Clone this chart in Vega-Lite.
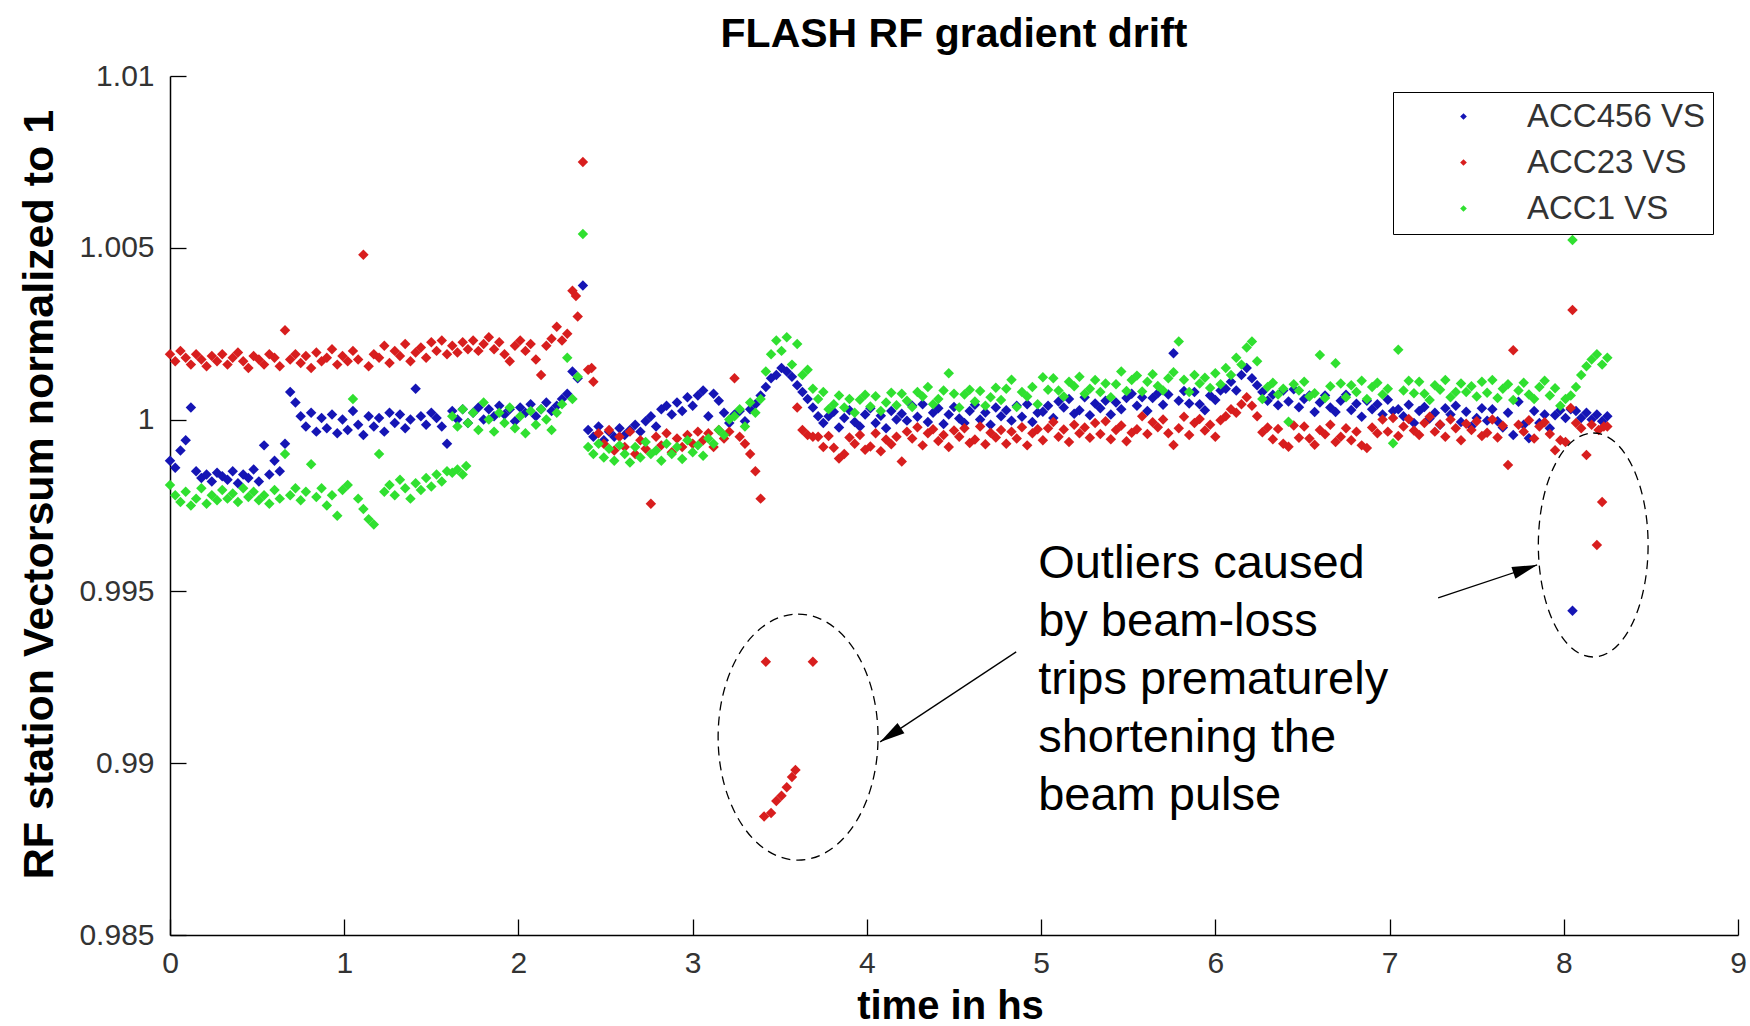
{
"$schema": "https://vega.github.io/schema/vega-lite/v6.json",
"width": 1568, "height": 859,
"autosize": {"type": "none"},
"padding": {"left": 170, "top": 76, "right": 12, "bottom": 91},
"background": "white",
"config": {"view": {"stroke": null}, "font": "Liberation Sans"},
"title": {"text": "FLASH RF gradient drift", "fontSize": 41, "fontWeight": "bold", "font": "Liberation Sans", "color": "black", "anchor": "middle", "frame": "group", "baseline": "alphabetic", "offset": -27},
"datasets": {
"drift": [
{"t":0,"a":0.9988,"b":1.0019,"c":0.9981},
{"t":0.03,"a":0.9986,"b":1.0017,"c":0.9978},
{"t":0.06,"a":0.9991,"b":1.002,"c":0.9976},
{"t":0.09,"a":0.9994,"b":1.0018,"c":0.9979},
{"t":0.12,"a":1.00035,"b":1.0016,"c":0.9975},
{"t":0.15,"a":0.9985,"b":1.0019,"c":0.9977},
{"t":0.18,"a":0.9983,"b":1.00175,"c":0.998},
{"t":0.21,"a":0.9984,"b":1.00155,"c":0.99755},
{"t":0.24,"a":0.9982,"b":1.00185,"c":0.9978},
{"t":0.27,"a":0.99845,"b":1.0017,"c":0.99765},
{"t":0.3,"a":0.99835,"b":1.0019,"c":0.99795},
{"t":0.33,"a":0.99825,"b":1.0016,"c":0.9977},
{"t":0.36,"a":0.9985,"b":1.0018,"c":0.99785},
{"t":0.39,"a":0.99815,"b":1.00195,"c":0.9976},
{"t":0.42,"a":0.9984,"b":1.0017,"c":0.998},
{"t":0.45,"a":0.9983,"b":1.0015,"c":0.99775},
{"t":0.48,"a":0.99855,"b":1.00185,"c":0.9979},
{"t":0.51,"a":0.9982,"b":1.00175,"c":0.99765},
{"t":0.54,"a":0.99925,"b":1.0016,"c":0.9978},
{"t":0.57,"a":0.9984,"b":1.0019,"c":0.99755},
{"t":0.6,"a":0.9988,"b":1.0018,"c":0.99795},
{"t":0.63,"a":0.9985,"b":1.00155,"c":0.9977},
{"t":0.66,"a":0.9993,"b":1.0026,"c":0.999},
{"t":0.69,"a":1.0008,"b":1.00175,"c":0.9978},
{"t":0.72,"a":1.0005,"b":1.0019,"c":0.998},
{"t":0.75,"a":1.0001,"b":1.00165,"c":0.99765},
{"t":0.78,"a":0.9998,"b":1.00185,"c":0.9979},
{"t":0.81,"a":1.0002,"b":1.0015,"c":0.9987},
{"t":0.84,"a":0.99965,"b":1.00195,"c":0.99775},
{"t":0.87,"a":1.00005,"b":1.0017,"c":0.998},
{"t":0.9,"a":0.99975,"b":1.0018,"c":0.9975},
{"t":0.93,"a":1.00015,"b":1.00205,"c":0.9978},
{"t":0.96,"a":0.9996,"b":1.0016,"c":0.9972},
{"t":0.99,"a":1.0,"b":1.00185,"c":0.99795},
{"t":1.02,"a":0.9997,"b":1.0017,"c":0.9981},
{"t":1.05,"a":1.00025,"b":1.002,"c":1.0006},
{"t":1.08,"a":0.99985,"b":1.00175,"c":0.9977},
{"t":1.11,"a":0.99955,"b":1.0048,"c":0.9974},
{"t":1.14,"a":1.0001,"b":1.00155,"c":0.9971},
{"t":1.17,"a":0.9998,"b":1.0019,"c":0.99695},
{"t":1.2,"a":1.00005,"b":1.0018,"c":0.999},
{"t":1.23,"a":0.99965,"b":1.00215,"c":0.9979},
{"t":1.26,"a":1.0002,"b":1.00165,"c":0.9981},
{"t":1.29,"a":0.9999,"b":1.002,"c":0.9978},
{"t":1.32,"a":1.00015,"b":1.00185,"c":0.99825},
{"t":1.35,"a":0.99975,"b":1.0022,"c":0.998},
{"t":1.38,"a":1.0,"b":1.0017,"c":0.9977},
{"t":1.41,"a":1.0009,"b":1.00195,"c":0.99815},
{"t":1.44,"a":1.0001,"b":1.0021,"c":0.99795},
{"t":1.47,"a":0.99985,"b":1.0018,"c":0.9983},
{"t":1.5,"a":1.0002,"b":1.00225,"c":0.99805},
{"t":1.53,"a":1.00005,"b":1.002,"c":0.9984},
{"t":1.56,"a":0.9998,"b":1.0023,"c":0.9982},
{"t":1.59,"a":0.9993,"b":1.0019,"c":0.9985},
{"t":1.62,"a":1.00025,"b":1.00215,"c":1.0001},
{"t":1.65,"a":1.0,"b":1.00195,"c":0.9998},
{"t":1.68,"a":1.0003,"b":1.00225,"c":1.0003},
{"t":1.71,"a":0.9999,"b":1.00205,"c":0.9999},
{"t":1.74,"a":1.0002,"b":1.0023,"c":1.0002},
{"t":1.77,"a":1.00035,"b":1.002,"c":0.9997},
{"t":1.8,"a":1.0,"b":1.0022,"c":1.0005},
{"t":1.83,"a":1.0003,"b":1.0024,"c":1.0},
{"t":1.86,"a":1.0001,"b":1.00205,"c":0.99965},
{"t":1.89,"a":1.0004,"b":1.00225,"c":1.0002},
{"t":1.92,"a":1.00015,"b":1.0019,"c":0.9999},
{"t":1.95,"a":1.0003,"b":1.0017,"c":1.00035},
{"t":1.98,"a":0.99995,"b":1.00215,"c":0.99975},
{"t":2.01,"a":1.00035,"b":1.0023,"c":1.0001},
{"t":2.04,"a":1.0002,"b":1.002,"c":0.9996},
{"t":2.07,"a":1.00045,"b":1.0022,"c":1.00025},
{"t":2.1,"a":1.0001,"b":1.00175,"c":0.99985},
{"t":2.13,"a":1.0003,"b":1.0013,"c":1.0003},
{"t":2.16,"a":1.0005,"b":1.00215,"c":1.0},
{"t":2.19,"a":1.00025,"b":1.00235,"c":0.9997},
{"t":2.22,"a":1.0004,"b":1.0027,"c":1.0002},
{"t":2.25,"a":1.0006,"b":1.0023,"c":1.00045},
{"t":2.28,"a":1.00075,"b":1.0025,"c":1.0018},
{"t":2.31,"a":1.0014,"b":1.00375,"c":1.0006},
{"t":2.34,"a":1.0012,"b":1.003,"c":1.00125},
{"t":2.37,"a":1.0039,"b":1.0075,"c":1.0054},
{"t":2.4,"a":0.9997,"b":1.00145,"c":0.9992},
{"t":2.43,"a":0.9995,"b":1.0011,"c":0.999},
{"t":2.46,"a":0.9998,"b":0.9996,"c":0.9993},
{"t":2.49,"a":0.9994,"b":0.9993,"c":0.9989},
{"t":2.52,"a":0.99965,"b":0.9997,"c":0.99915},
{"t":2.55,"a":0.9995,"b":0.9991,"c":0.9988},
{"t":2.58,"a":0.99975,"b":0.9995,"c":0.99925},
{"t":2.61,"a":0.99955,"b":0.9992,"c":0.999},
{"t":2.64,"a":0.9997,"b":0.99965,"c":0.99875},
{"t":2.67,"a":0.99985,"b":0.999,"c":0.9992},
{"t":2.7,"a":0.99965,"b":0.9994,"c":0.9989},
{"t":2.73,"a":0.99995,"b":0.99915,"c":0.99935},
{"t":2.76,"a":1.0001,"b":0.99755,"c":0.999},
{"t":2.79,"a":0.9998,"b":0.9995,"c":0.9991},
{"t":2.82,"a":1.0003,"b":0.99925,"c":0.9988},
{"t":2.85,"a":1.0004,"b":0.9996,"c":0.9993},
{"t":2.88,"a":1.00015,"b":0.99905,"c":0.999},
{"t":2.91,"a":1.0005,"b":0.99945,"c":0.9992},
{"t":2.94,"a":1.00025,"b":0.9992,"c":0.99885},
{"t":2.97,"a":1.00065,"b":0.99955,"c":0.9994},
{"t":3.0,"a":1.0004,"b":0.9993,"c":0.99905},
{"t":3.03,"a":1.0007,"b":0.99965,"c":0.99925},
{"t":3.06,"a":1.00085,"b":0.9994,"c":0.99895},
{"t":3.09,"a":1.0001,"b":0.9996,"c":0.99945},
{"t":3.12,"a":1.00075,"b":0.9992,"c":0.9993},
{"t":3.15,"a":1.00055,"b":0.9997,"c":0.9997},
{"t":3.18,"a":1.0002,"b":0.99945,"c":0.99955},
{"t":3.21,"a":0.9999,"b":0.99965,"c":1.0},
{"t":3.24,"a":1.00015,"b":1.0012,"c":1.0001},
{"t":3.27,"a":1.00025,"b":0.9995,"c":1.0003},
{"t":3.3,"a":0.99995,"b":0.9993,"c":0.9998},
{"t":3.33,"a":1.0003,"b":0.999,"c":1.0005},
{"t":3.36,"a":1.00045,"b":0.9985,"c":1.0002},
{"t":3.39,"a":1.0007,"b":0.9977,"c":1.0006},
{"t":3.42,"a":1.00095,"b":0.99295,"c":1.0014},
{"t":3.45,"a":1.0012,"b":0.98855,"c":1.0019},
{"t":3.48,"a":1.0013,"b":0.9889,"c":1.0023},
{"t":3.51,"a":1.0015,"b":0.98905,"c":1.002},
{"t":3.54,"a":1.0014,"b":0.9893,"c":1.0024},
{"t":3.57,"a":1.00125,"b":0.9896,"c":1.0016},
{"t":3.6,"a":1.001,"b":1.00035,"c":1.0022},
{"t":3.63,"a":1.0008,"b":0.9997,"c":1.0013},
{"t":3.66,"a":1.0006,"b":0.99955,"c":1.00145},
{"t":3.69,"a":1.00035,"b":0.99295,"c":1.0009},
{"t":3.72,"a":1.0001,"b":0.9995,"c":1.0006},
{"t":3.75,"a":0.9999,"b":0.9992,"c":1.0008},
{"t":3.78,"a":1.0001,"b":0.99952,"c":1.0003},
{"t":3.81,"a":1.00023,"b":0.99918,"c":1.00045},
{"t":3.84,"a":0.99977,"b":0.99887,"c":1.0007},
{"t":3.87,"a":1.00005,"b":0.999,"c":1.00035},
{"t":3.9,"a":1.00027,"b":0.99948,"c":1.0006},
{"t":3.93,"a":0.99993,"b":0.9993,"c":1.0002},
{"t":3.96,"a":0.9998,"b":0.99955,"c":1.00058},
{"t":3.99,"a":1.00015,"b":0.99912,"c":1.00072},
{"t":4.02,"a":1.00033,"b":0.99922,"c":1.00038},
{"t":4.05,"a":0.9999,"b":0.9996,"c":1.00068},
{"t":4.08,"a":1.00011,"b":0.99908,"c":1.00025},
{"t":4.11,"a":0.99975,"b":0.99942,"c":1.0005},
{"t":4.14,"a":1.00025,"b":0.99928,"c":1.00078},
{"t":4.17,"a":1.0,"b":0.9995,"c":1.00042},
{"t":4.2,"a":1.00017,"b":0.99878,"c":1.00075},
{"t":4.23,"a":0.99997,"b":0.99965,"c":1.00055},
{"t":4.26,"a":1.0004,"b":0.99945,"c":1.00037},
{"t":4.29,"a":1.00008,"b":0.99978,"c":1.0008},
{"t":4.32,"a":1.00045,"b":0.99925,"c":1.00067},
{"t":4.35,"a":0.99993,"b":0.9996,"c":1.00095},
{"t":4.38,"a":1.0002,"b":0.99972,"c":1.00045},
{"t":4.41,"a":1.00033,"b":0.99938,"c":1.0006},
{"t":4.44,"a":0.99987,"b":0.99955,"c":1.00085},
{"t":4.47,"a":1.00015,"b":0.9992,"c":1.00135},
{"t":4.5,"a":1.00037,"b":0.99968,"c":1.00075},
{"t":4.53,"a":1.00003,"b":0.9995,"c":1.00035},
{"t":4.56,"a":0.9999,"b":0.99975,"c":1.00073},
{"t":4.59,"a":1.00025,"b":0.99932,"c":1.00087},
{"t":4.62,"a":1.00043,"b":0.99942,"c":1.00053},
{"t":4.65,"a":1.0,"b":0.9998,"c":1.00083},
{"t":4.68,"a":1.00021,"b":0.99928,"c":1.0004},
{"t":4.71,"a":0.99985,"b":0.99962,"c":1.00065},
{"t":4.74,"a":1.00035,"b":0.99948,"c":1.00093},
{"t":4.77,"a":1.0001,"b":0.9997,"c":1.00057},
{"t":4.8,"a":1.00027,"b":0.9993,"c":1.0009},
{"t":4.83,"a":0.99997,"b":0.99965,"c":1.00116},
{"t":4.86,"a":1.0004,"b":0.99945,"c":1.00037},
{"t":4.89,"a":1.00008,"b":0.99978,"c":1.0008},
{"t":4.92,"a":1.00045,"b":0.99925,"c":1.00067},
{"t":4.95,"a":0.99993,"b":0.9996,"c":1.00095},
{"t":4.98,"a":1.0002,"b":0.99972,"c":1.00045},
{"t":5.01,"a":1.00023,"b":0.9994,"c":1.00123},
{"t":5.04,"a":1.0004,"b":0.99975,"c":1.00087},
{"t":5.07,"a":1.00005,"b":0.99993,"c":1.0012},
{"t":5.1,"a":1.00053,"b":0.9995,"c":1.00085},
{"t":5.13,"a":1.00035,"b":0.99971,"c":1.00067},
{"t":5.16,"a":1.0006,"b":0.99935,"c":1.0011},
{"t":5.19,"a":1.00017,"b":0.99985,"c":1.00097},
{"t":5.22,"a":1.00027,"b":0.9996,"c":1.00125},
{"t":5.25,"a":1.00065,"b":0.99977,"c":1.00075},
{"t":5.28,"a":1.00013,"b":0.99947,"c":1.0009},
{"t":5.31,"a":1.00047,"b":0.9999,"c":1.00115},
{"t":5.34,"a":1.00033,"b":0.99958,"c":1.0008},
{"t":5.37,"a":1.00055,"b":0.99995,"c":1.00105},
{"t":5.4,"a":1.00015,"b":0.99943,"c":1.00065},
{"t":5.43,"a":1.0005,"b":0.9997,"c":1.00103},
{"t":5.46,"a":1.0003,"b":0.99983,"c":1.0014},
{"t":5.49,"a":1.00063,"b":0.99937,"c":1.00083},
{"t":5.52,"a":1.00075,"b":0.99962,"c":1.00115},
{"t":5.55,"a":1.0004,"b":0.99972,"c":1.00128},
{"t":5.58,"a":1.00065,"b":1.0001,"c":1.00082},
{"t":5.61,"a":1.00025,"b":0.99958,"c":1.0011},
{"t":5.64,"a":1.00063,"b":0.99992,"c":1.00132},
{"t":5.67,"a":1.00077,"b":0.99978,"c":1.00098},
{"t":5.7,"a":1.00043,"b":1.0,"c":1.00085},
{"t":5.73,"a":1.00073,"b":0.9996,"c":1.0012},
{"t":5.76,"a":1.00193,"b":0.99926,"c":1.00138},
{"t":5.79,"a":1.00055,"b":0.99975,"c":1.00227},
{"t":5.82,"a":1.00083,"b":1.00008,"c":1.00116},
{"t":5.85,"a":1.00047,"b":0.99955,"c":1.0008},
{"t":5.88,"a":1.0008,"b":0.9999,"c":1.0013},
{"t":5.91,"a":1.00045,"b":1.00002,"c":1.00105},
{"t":5.94,"a":1.00027,"b":0.99968,"c":1.00122},
{"t":5.97,"a":1.0007,"b":0.99985,"c":1.00092},
{"t":6.0,"a":1.00057,"b":0.9995,"c":1.00135},
{"t":6.03,"a":1.00085,"b":0.99998,"c":1.00103},
{"t":6.06,"a":1.0009,"b":1.0001,"c":1.0015},
{"t":6.09,"a":1.0011,"b":1.0003,"c":1.0013},
{"t":6.12,"a":1.00085,"b":1.0002,"c":1.0018},
{"t":6.15,"a":1.0013,"b":1.00045,"c":1.0016},
{"t":6.18,"a":1.0015,"b":1.00065,"c":1.0021},
{"t":6.21,"a":1.0012,"b":1.0004,"c":1.00227},
{"t":6.24,"a":1.001,"b":1.0001,"c":1.0017},
{"t":6.27,"a":1.0008,"b":0.99963,"c":1.0006},
{"t":6.3,"a":1.00055,"b":0.99977,"c":1.00095},
{"t":6.33,"a":1.00072,"b":0.99943,"c":1.00107},
{"t":6.36,"a":1.00042,"b":0.99973,"c":1.00073},
{"t":6.39,"a":1.00085,"b":0.9993,"c":1.0009},
{"t":6.42,"a":1.00053,"b":0.99921,"c":0.99994},
{"t":6.45,"a":1.00088,"b":0.99983,"c":1.00103},
{"t":6.48,"a":1.00036,"b":0.99947,"c":1.00085},
{"t":6.51,"a":1.0006,"b":0.9998,"c":1.0011},
{"t":6.54,"a":1.0007,"b":0.99945,"c":1.00067},
{"t":6.57,"a":1.00022,"b":0.99927,"c":1.00077},
{"t":6.6,"a":1.0005,"b":0.9997,"c":1.00188},
{"t":6.63,"a":1.0007,"b":0.99957,"c":1.00063},
{"t":6.66,"a":1.00035,"b":0.99985,"c":1.00097},
{"t":6.69,"a":1.00022,"b":0.99935,"c":1.00164},
{"t":6.72,"a":1.00055,"b":0.9995,"c":1.00105},
{"t":6.75,"a":1.00072,"b":0.99975,"c":1.00065},
{"t":6.78,"a":1.00028,"b":0.9994,"c":1.001},
{"t":6.81,"a":1.00046,"b":0.99965,"c":1.0008},
{"t":6.84,"a":1.00008,"b":0.99925,"c":1.00113},
{"t":6.87,"a":1.00055,"b":0.99917,"c":1.0006},
{"t":6.9,"a":1.0003,"b":0.99977,"c":1.00095},
{"t":6.93,"a":1.00045,"b":0.9996,"c":1.00107},
{"t":6.96,"a":1.00015,"b":1.0,"c":1.00073},
{"t":6.99,"a":1.00058,"b":0.99965,"c":1.0009},
{"t":7.02,"a":1.00025,"b":1.00005,"c":0.99931},
{"t":7.05,"a":1.0003,"b":0.99952,"c":1.00203},
{"t":7.08,"a":1.0001,"b":0.9998,"c":1.00085},
{"t":7.11,"a":1.00043,"b":1.00002,"c":1.00113},
{"t":7.14,"a":0.9999,"b":0.99968,"c":1.00077},
{"t":7.17,"a":1.00025,"b":0.99955,"c":1.0011},
{"t":7.2,"a":1.00037,"b":0.9999,"c":1.00075},
{"t":7.23,"a":1.00003,"b":1.00008,"c":1.00057},
{"t":7.26,"a":1.0002,"b":0.99965,"c":1.001},
{"t":7.29,"a":0.99985,"b":0.99986,"c":1.00087},
{"t":7.32,"a":1.00033,"b":0.9995,"c":1.00115},
{"t":7.35,"a":1.00015,"b":1.0,"c":1.00065},
{"t":7.38,"a":1.0004,"b":0.99975,"c":1.0008},
{"t":7.41,"a":0.99993,"b":0.9994,"c":1.00105},
{"t":7.44,"a":1.00023,"b":0.99988,"c":1.0008},
{"t":7.47,"a":0.9998,"b":0.9997,"c":1.00097},
{"t":7.5,"a":1.00005,"b":0.99995,"c":1.00067},
{"t":7.53,"a":1.00033,"b":0.99952,"c":1.0011},
{"t":7.56,"a":0.99997,"b":0.99962,"c":1.00078},
{"t":7.59,"a":1.0003,"b":1.0,"c":1.00115},
{"t":7.62,"a":0.99995,"b":0.99948,"c":1.00063},
{"t":7.65,"a":0.99977,"b":0.99982,"c":1.0009},
{"t":7.68,"a":1.0002,"b":0.99868,"c":1.00103},
{"t":7.71,"a":0.99955,"b":1.00202,"c":1.00057},
{"t":7.74,"a":1.00052,"b":0.99985,"c":1.00085},
{"t":7.77,"a":0.99985,"b":0.99965,"c":1.00107},
{"t":7.8,"a":0.99946,"b":0.99998,"c":1.00073},
{"t":7.83,"a":1.00025,"b":0.99945,"c":1.0006},
{"t":7.86,"a":0.9999,"b":0.9998,"c":1.00095},
{"t":7.89,"a":1.00015,"b":0.99992,"c":1.00113},
{"t":7.92,"a":0.99975,"b":0.99958,"c":1.0007},
{"t":7.95,"a":1.00013,"b":0.99911,"c":1.00091},
{"t":7.98,"a":1.00027,"b":0.9994,"c":1.0004},
{"t":8.01,"a":1.00005,"b":0.99935,"c":1.0006},
{"t":8.04,"a":1.0003,"b":1.00034,"c":1.0007},
{"t":8.05,"a":0.99444,"b":1.00319,"c":1.00523},
{"t":8.07,"a":1.00025,"b":0.9999,"c":1.00095},
{"t":8.1,"a":1.00005,"b":0.99975,"c":1.0013},
{"t":8.13,"a":1.0002,"b":0.99897,"c":1.00155},
{"t":8.16,"a":1.0,"b":0.99985,"c":1.00175},
{"t":8.19,"a":1.00015,"b":0.99635,"c":1.0019},
{"t":8.22,"a":0.99995,"b":0.9976,"c":1.0016},
{"t":8.25,"a":1.0001,"b":0.9998,"c":1.0018},
{"t":8.2,"b":0.9997},
{"t":8.23,"b":0.9998},
{"t":1.62,"c":0.99845},
{"t":1.65,"c":0.99855},
{"t":1.68,"c":0.9984},
{"t":1.7,"c":0.99865},
{"t":2.33,"b":1.0036},
{"t":2.42,"b":1.0015},
{"t":3.41,"b":0.98845},
{"t":3.59,"b":0.9898},
{"t":3.69,"b":0.9995}
]
},
"layer": [
{
"data": {"name": "drift"},
"transform": [{"fold": ["a", "b", "c"], "as": ["s", "v"]}],
"mark": {"type": "point", "shape": "diamond", "filled": true, "size": 110, "opacity": 1, "strokeWidth": 0},
"encoding": {
"x": {"field": "t", "type": "quantitative",
"scale": {"domain": [0, 9], "nice": false, "zero": false},
"axis": {"values": [0,1,2,3,4,5,6,7,8,9], "format": "d", "title": "time in hs",
"titleFontSize": 40, "titleFontWeight": "bold", "titleFont": "Liberation Sans", "titleColor": "black",
"titleX": 780, "titleY": 83, "titleBaseline": "alphabetic", "titleAlign": "center",
"labelFontSize": 30, "labelColor": "#333", "labelFont": "Liberation Sans", "labelPadding": 29, "labelFlush": false, "labelOverlap": false,
"tickSize": -16, "tickColor": "black", "tickWidth": 1.3, "domainColor": "black", "domainWidth": 1.5, "grid": false}},
"y": {"field": "v", "type": "quantitative",
"scale": {"domain": [0.985, 1.01], "nice": false, "zero": false},
"axis": {"values": [0.985, 0.99, 0.995, 1, 1.005, 1.01], "format": "~g", "title": "RF station Vectorsum normalized to 1",
"titleFontSize": 43, "titleFontWeight": "bold", "titleFont": "Liberation Sans", "titleColor": "black",
"titleX": -118, "titleY": 418, "titleBaseline": "alphabetic", "titleAlign": "center", "titleAngle": 270,
"labelFontSize": 30, "labelColor": "#333", "labelFont": "Liberation Sans", "labelPadding": 32, "labelFlush": false, "labelOverlap": false,
"tickSize": -16, "tickColor": "black", "tickWidth": 1.3, "domainColor": "black", "domainWidth": 1.5, "grid": false}},
"color": {"field": "s", "type": "nominal",
"scale": {"domain": ["a", "b", "c"], "range": ["#1515b5", "#d81e1e", "#30e030"]},
"legend": {"orient": "none", "legendX": 1223, "legendY": 16, "title": null,
"labelExpr": "datum.value == 'a' ? 'ACC456 VS' : datum.value == 'b' ? 'ACC23 VS' : 'ACC1 VS'",
"labelFontSize": 33, "labelFont": "Liberation Sans", "labelColor": "#333", "labelLimit": 400,
"symbolType": "diamond", "symbolSize": 45, "symbolOpacity": 1, "symbolStrokeWidth": 0,
"strokeColor": "black", "fillColor": "white", "padding": 8, "rowPadding": 12, "symbolOffset": 46, "labelOffset": 47}},
"order": {"field": "s"}
}
},
{
"data": {"values": [{"t": 3.605, "v": 0.99076}]},
"mark": {"type": "point", "shape": "M 0 -1 A 0.65 1 0 1 1 0 1 A 0.65 1 0 1 1 0 -1 Z", "size": 60516, "filled": false, "stroke": "black", "strokeWidth": 1.3, "strokeDash": [9, 6], "opacity": 1},
"encoding": {"x": {"field": "t", "type": "quantitative"}, "y": {"field": "v", "type": "quantitative"}}
},
{
"data": {"values": [{"t": 8.169, "v": 0.99635}]},
"mark": {"type": "point", "shape": "M 0 -1 A 0.49 1 0 1 1 0 1 A 0.49 1 0 1 1 0 -1 Z", "size": 50176, "filled": false, "stroke": "black", "strokeWidth": 1.3, "strokeDash": [9, 6], "opacity": 1},
"encoding": {"x": {"field": "t", "type": "quantitative"}, "y": {"field": "v", "type": "quantitative"}}
},
{
"data": {"values": [{"t": 4.857, "v": 0.99324, "t2": 4.076, "v2": 0.99062}, {"t": 7.279, "v": 0.99481, "t2": 7.847, "v2": 0.99577}]},
"mark": {"type": "rule", "color": "black", "strokeWidth": 1.3},
"encoding": {"x": {"field": "t", "type": "quantitative"}, "y": {"field": "v", "type": "quantitative"}, "x2": {"field": "t2"}, "y2": {"field": "v2"}}
},
{
"data": {"values": [{"t": 4.076, "v": 0.99062}]},
"mark": {"type": "point", "shape": "M 0 0 L -2 -0.5 L -2 0.5 Z", "size": 625, "filled": true, "color": "black", "opacity": 1, "angle": 146.5},
"encoding": {"x": {"field": "t", "type": "quantitative"}, "y": {"field": "v", "type": "quantitative"}}
},
{
"data": {"values": [{"t": 7.847, "v": 0.99577}]},
"mark": {"type": "point", "shape": "M 0 0 L -2 -0.5 L -2 0.5 Z", "size": 625, "filled": true, "color": "black", "opacity": 1, "angle": 341.6},
"encoding": {"x": {"field": "t", "type": "quantitative"}, "y": {"field": "v", "type": "quantitative"}}
},
{
"data": {"values": [{"t": 4.983, "v": 0.99539, "label": "Outliers caused\nby beam-loss\ntrips prematurely\nshortening the\nbeam pulse"}]},
"mark": {"type": "text", "align": "left", "baseline": "alphabetic", "fontSize": 47, "font": "Liberation Sans", "lineHeight": 58, "color": "black", "lineBreak": "\n"},
"encoding": {"x": {"field": "t", "type": "quantitative"}, "y": {"field": "v", "type": "quantitative"}, "text": {"field": "label"}}
}
]
}
